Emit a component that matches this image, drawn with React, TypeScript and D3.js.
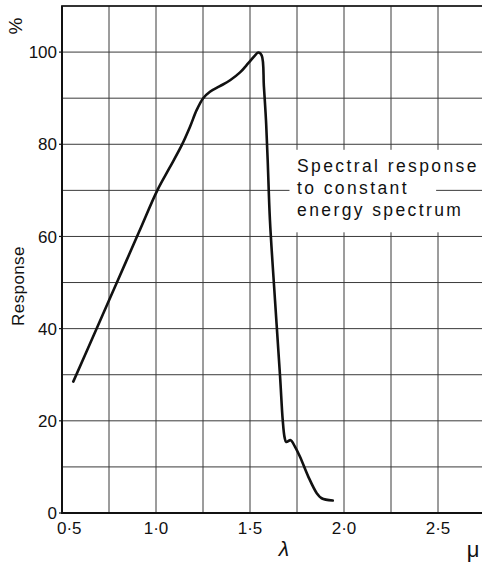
import React from 'react';
import * as d3 from 'd3';

// Spectral response curve (wavelength in microns, response in %)
const wavelength = [
  0.56, 0.685, 0.796, 0.91, 1.007, 1.071, 1.137, 1.181, 1.216, 1.251, 1.287,
  1.34, 1.394, 1.447, 1.491, 1.527, 1.544, 1.562, 1.574, 1.585, 1.594, 1.606,
  1.633, 1.66, 1.674, 1.684, 1.693, 1.716, 1.739, 1.766, 1.81, 1.855, 1.881, 1.94,
];
const response = [
  28.5, 40.1, 50.4, 61, 70, 74.8, 79.8, 83.8, 87.4, 90, 91.4,
  92.6, 93.9, 95.6, 97.6, 99.3, 99.9, 99.3, 92.5, 85.2, 76.6, 63.6,
  46.2, 29.6, 20.2, 16.4, 15.4, 15.8, 14.4, 12.2, 7.9, 4.3, 3.2, 2.7,
];

const xTicks = [0.5, 1.0, 1.5, 2.0, 2.5];
const xTickLabels = ['0·5', '1·0', '1·5', '2·0', '2·5'];
const yTicks = [0, 20, 40, 60, 80, 100];
const legendLines = ['Spectral response', 'to constant', 'energy spectrum'];

const W = 482;
const H = 564;
const FONT = '"Liberation Sans", Arial, sans-serif';

export default function App() {
  const x = d3.scaleLinear().domain([0.5, 2.75]).range([62, 485]);
  const y = d3.scaleLinear().domain([0, 110]).range([513, 6]);

  const vGrid = d3.range(0.5, 2.76, 0.25);
  const hGrid = d3.range(0, 111, 10);

  const pts: [number, number][] = wavelength.map((w, i) => [w, response[i]]);
  const line = d3
    .line<[number, number]>()
    .x((d) => x(d[0]))
    .y((d) => y(d[1]))
    .curve(d3.curveCatmullRom.alpha(0.5));

  const gridColor = '#3a3a3a';

  return (
    <svg
      width={W}
      height={H}
      style={{ position: 'absolute', left: 0, top: 0, background: '#fff' }}
      fontFamily={FONT}
    >
      <rect x={0} y={0} width={W} height={H} fill="#fff" />

      {/* grid */}
      {vGrid.map((v) => (
        <line key={'v' + v} x1={x(v)} x2={x(v)} y1={y(110)} y2={y(0)} stroke={gridColor} strokeWidth={1} />
      ))}
      {hGrid.map((v) => (
        <line key={'h' + v} x1={x(0.5)} x2={W} y1={y(v)} y2={y(v)} stroke={gridColor} strokeWidth={1} />
      ))}

      {/* frame */}
      <line x1={x(0.5)} x2={x(0.5)} y1={y(110)} y2={y(0)} stroke="#111" strokeWidth={2} />
      <line x1={x(0.5) - 1} x2={W} y1={y(0)} y2={y(0)} stroke="#111" strokeWidth={2} />
      <line x1={x(0.5) - 1} x2={W} y1={y(110)} y2={y(110)} stroke="#111" strokeWidth={1.6} />

      {/* y ticks and labels */}
      {yTicks.map((t) => (
        <g key={'yt' + t}>
          <line x1={x(0.5) - 3} x2={x(0.5)} y1={y(t)} y2={y(t)} stroke="#111" strokeWidth={1.2} />
          <text x={x(0.5) - 5} y={y(t)} dy="0.36em" textAnchor="end" fontSize={17} fill="#111">
            {t}
          </text>
        </g>
      ))}

      {/* x tick labels */}
      {xTicks.map((t, i) => (
        <text
          key={'xt' + t}
          x={i === 0 ? x(t) - 5 : x(t)}
          y={y(0) + 21}
          textAnchor={i === 0 ? 'start' : 'middle'}
          fontSize={17}
          fill="#111"
        >
          {xTickLabels[i]}
        </text>
      ))}

      {/* axis titles */}
      <text
        transform="translate(24, 286) rotate(-90)"
        textAnchor="middle"
        fontSize={17}
        fill="#111"
        letterSpacing={0.4}
      >
        Response
      </text>
      <text transform="translate(22, 26) rotate(-90)" textAnchor="middle" fontSize={19} fill="#111">
        %
      </text>
      <text x={284} y={556} textAnchor="middle" fontSize={21} fontStyle="italic" fill="#111">
        λ
      </text>
      <text x={473} y={557} textAnchor="middle" fontSize={22} fill="#111">
        μ
      </text>

      {/* curve */}
      <path d={line(pts) ?? ''} fill="none" stroke="#111" strokeWidth={2.6} strokeLinejoin="round" strokeLinecap="round" />

      {/* legend */}
      <rect x={x(1.71)} y={y(78.8)} width={W - x(1.71)} height={y(60.9) - y(78.8)} fill="#fff" />
      <line x1={x(2.49)} x2={W} y1={y(70)} y2={y(70)} stroke={gridColor} strokeWidth={1} />
      {legendLines.map((s, i) => (
        <text key={s} x={297} y={172 + i * 22} fontSize={17.5} fill="#111" letterSpacing={2.4}>
          {s}
        </text>
      ))}
    </svg>
  );
}
